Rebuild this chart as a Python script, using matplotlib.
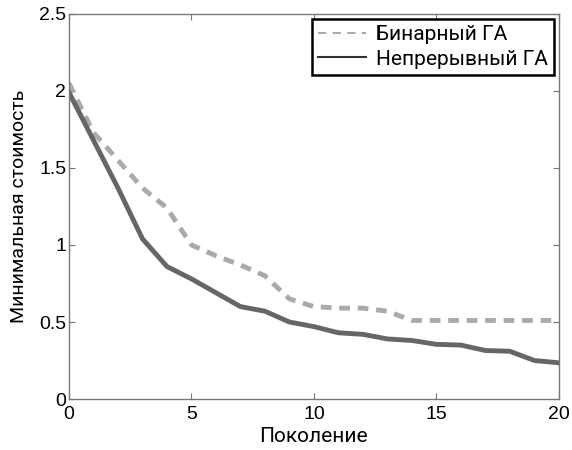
import numpy as np
import matplotlib
matplotlib.use('Agg')
import matplotlib.pyplot as plt
from matplotlib.lines import Line2D

# поколения и минимальная стоимость для двух вариантов ГА
generations = list(range(0, 21))
binary_ga = [2.05, 1.73, 1.55, 1.37, 1.24, 1.00, 0.93, 0.87, 0.80, 0.65, 0.60,
             0.59, 0.59, 0.57, 0.51, 0.51, 0.51, 0.51, 0.51, 0.51, 0.51]
continuous_ga = [1.99, 1.68, 1.37, 1.04, 0.86, 0.78, 0.69, 0.60, 0.57, 0.50, 0.47,
                 0.43, 0.42, 0.39, 0.38, 0.355, 0.35, 0.315, 0.31, 0.25, 0.235]

x_ticks = [0, 5, 10, 15, 20]
y_ticks = [0, 0.5, 1, 1.5, 2, 2.5]
y_tick_labels = ["0", "0.5", "1", "1.5", "2", "2.5"]

fig = plt.figure(figsize=(5.72, 4.5), dpi=100)
ax = fig.add_axes([0.1206, 0.1133, 0.8564, 0.8557])

ax.plot(generations, binary_ga, color="#aaaaaa", lw=3.5, ls=(0, (2.2, 1.6)))
ax.plot(generations, continuous_ga, color="#666666", lw=3.5)

ax.set_xlim(0, 20)
ax.set_ylim(0, 2.5)
ax.set_xticks(x_ticks)
ax.set_yticks(y_ticks)
ax.set_yticklabels(y_tick_labels)
ax.tick_params(direction="in", top=True, right=True, length=4, width=0.8,
               color="#777777", labelsize=14)
ax.tick_params(axis="x", pad=5)
ax.tick_params(axis="y", pad=2)
for lbl in ax.get_xticklabels() + ax.get_yticklabels():
    lbl.set_family("Liberation Sans")
for sp in ax.spines.values():
    sp.set_color("#777777")
    sp.set_linewidth(1.0)

ax.set_xlabel("Поколение", fontsize=15, family="Roboto", labelpad=3)
ax.set_ylabel("Минимальная стоимость", fontsize=14, family="Roboto", labelpad=8)

handles = [Line2D([], [], color="#aaaaaa", lw=1.5, ls=(0, (4, 3))),
           Line2D([], [], color="#333333", lw=1.5)]
leg = ax.legend(handles, ["Бинарный ГА", "Непрерывный ГА"], loc="upper right",
                fancybox=False, framealpha=1, edgecolor="black",
                prop={"family": "Roboto", "size": 15}, handlelength=2.3,
                borderpad=0.3, labelspacing=0.25, handletextpad=0.45,
                borderaxespad=0.25)
leg.get_frame().set_linewidth(1.8)

fig.savefig("out.png", dpi=100)
